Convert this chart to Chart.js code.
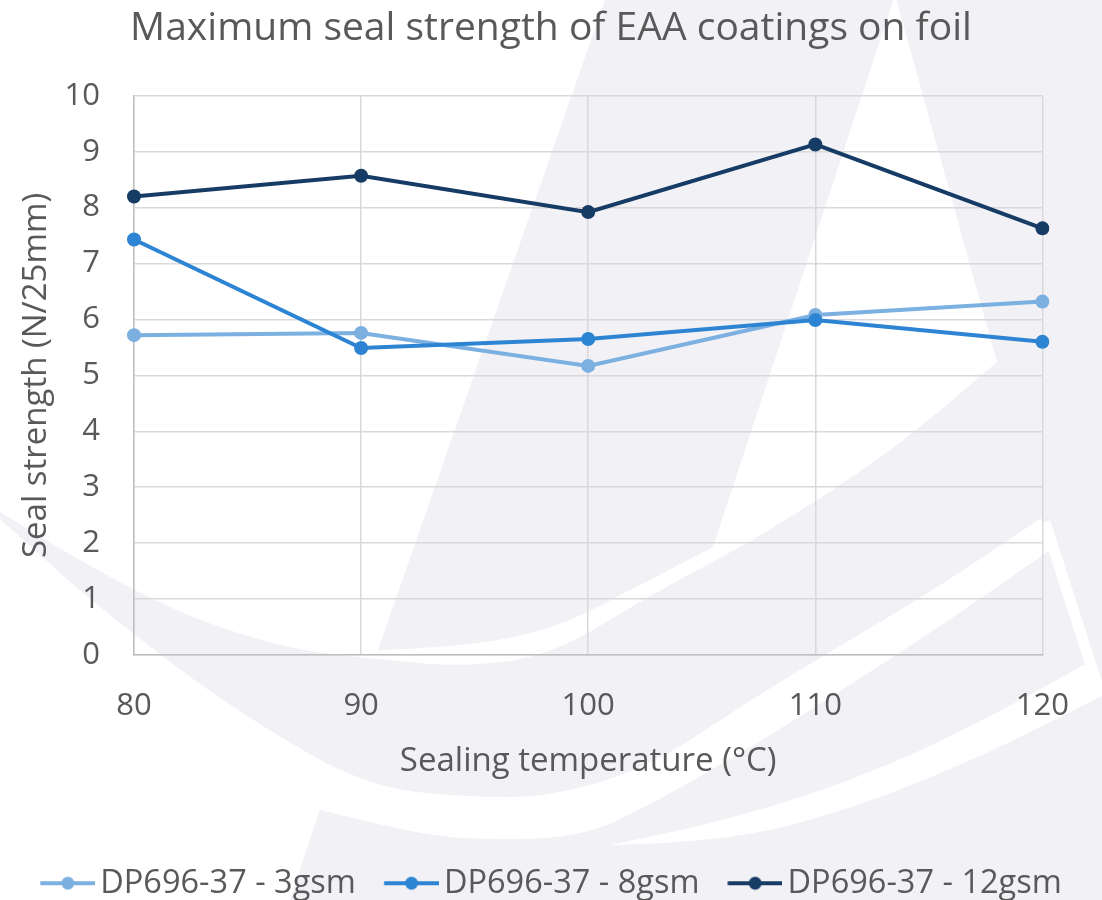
<!DOCTYPE html>
<html>
<head>
<meta charset="utf-8">
<title>Maximum seal strength of EAA coatings on foil</title>
<script src="https://cdn.jsdelivr.net/npm/chart.js@4.4.1/dist/chart.umd.min.js"></script>
<style>
  html, body { margin: 0; padding: 0; background: #ffffff; }
  canvas { display: block; }
</style>
</head>
<body>
<canvas id="sealChart" width="1102" height="900"></canvas>
<script>
// Sealing temperatures (°C) on the category axis
const temperatures = ['80', '90', '100', '110', '120'];

// Maximum seal strength (N/25mm) for each coating weight
const seal3gsm  = [5.72, 5.76, 5.17, 6.08, 6.32];
const seal8gsm  = [7.43, 5.49, 5.65, 5.99, 5.60];
const seal12gsm = [8.20, 8.57, 7.92, 9.13, 7.63];

const seriesNames  = ['DP696-37 - 3gsm', 'DP696-37 - 8gsm', 'DP696-37 - 12gsm'];
const seriesValues = [seal3gsm, seal8gsm, seal12gsm];
const seriesColors = ['#7cb0e1', '#2c84d2', '#163c66'];

const FONT = '"Open Sans", "Liberation Sans", sans-serif';
const TEXT_COLOR = '#595959';

// Legend swatch: short line with a round marker, as in the plotted series.
// The canvas carries a transparent left margin so the visible swatch
// starts at the item's left edge and ends just before the label.
const SWATCH_MARGIN = 11.25;
const SWATCH_LEN = 55;
function legendIcon(color) {
  const c = document.createElement('canvas');
  c.width = SWATCH_LEN + SWATCH_MARGIN; c.height = 16;
  const g = c.getContext('2d');
  g.strokeStyle = color; g.lineWidth = 4;
  g.beginPath(); g.moveTo(SWATCH_MARGIN, 8); g.lineTo(SWATCH_MARGIN + SWATCH_LEN, 8); g.stroke();
  g.fillStyle = color;
  g.beginPath(); g.arc(SWATCH_MARGIN + SWATCH_LEN / 2, 8, 6.5, 0, Math.PI * 2); g.fill();
  return c;
}
const legendIcons = seriesColors.map(legendIcon);

// Smooth path helper for the background emblem
function smooth(ctx, pts, start) {
  if (start) ctx.moveTo(pts[0][0], pts[0][1]); else ctx.lineTo(pts[0][0], pts[0][1]);
  for (let i = 1; i < pts.length - 1; i++) {
    const mx = (pts[i][0] + pts[i + 1][0]) / 2;
    const my = (pts[i][1] + pts[i + 1][1]) / 2;
    ctx.quadraticCurveTo(pts[i][0], pts[i][1], mx, my);
  }
  const last = pts[pts.length - 1];
  ctx.lineTo(last[0], last[1]);
}

// Faint sail emblem painted behind the whole chart
const emblemPlugin = {
  id: 'emblem',
  beforeDraw(chart) {
    const ctx = chart.ctx;
    ctx.save();
    ctx.fillStyle = '#ffffff';
    ctx.fillRect(0, 0, chart.width, chart.height);

    ctx.fillStyle = '#f1f1f6';
    ctx.beginPath();
    ctx.moveTo(605, 0);
    ctx.lineTo(1102, 0);
    ctx.lineTo(1102, 900);
    ctx.lineTo(290, 900);
    ctx.lineTo(320, 810);
    smooth(ctx, [[333, 767], [246, 719], [105, 613], [0, 519]], false);
    ctx.lineTo(0, 512);
    smooth(ctx, [[0, 512], [134, 596], [281, 649], [387, 660]], false);
    ctx.lineTo(378, 650);
    ctx.closePath();
    ctx.fill();

    ctx.fillStyle = '#ffffff';
    // gap between the sails and the upper swoosh
    ctx.beginPath();
    ctx.moveTo(895, -5);
    ctx.lineTo(997, 362);
    smooth(ctx, [[997, 362], [953, 400], [883, 457], [762, 536], [650, 595], [551, 656], [460, 667], [387, 660]], false);
    ctx.lineTo(378, 650);
    smooth(ctx, [[378, 650], [450, 648], [551, 631], [640, 585], [713, 547]], false);
    ctx.closePath();
    ctx.fill();

    // second swoosh gap
    ctx.beginPath();
    smooth(ctx, [[1041, 518], [950, 580], [850, 640], [750, 700], [650, 767], [550, 797], [467, 797], [387, 789], [333, 767], [300, 750]], true);
    ctx.lineTo(320, 810);
    smooth(ctx, [[320, 810], [400, 830], [467, 840], [580, 838], [650, 805], [750, 748], [850, 685], [950, 620], [1050, 550]], false);
    ctx.closePath();
    ctx.fill();

    // third swoosh gap
    ctx.beginPath();
    smooth(ctx, [[1087, 663], [983, 722], [850, 782], [720, 822], [610, 845]], true);
    smooth(ctx, [[610, 845], [720, 843], [850, 810], [983, 756], [1102, 696]], false);
    ctx.lineTo(1102, 680);
    ctx.closePath();
    ctx.fill();

    // thin stripe beside the right sail
    ctx.strokeStyle = '#ffffff';
    ctx.lineWidth = 11;
    ctx.beginPath();
    ctx.moveTo(1045, 522);
    ctx.lineTo(1097, 684);
    ctx.stroke();
    ctx.restore();
  }
};

const datasets = seriesNames.map((name, i) => ({
  label: name,
  data: seriesValues[i],
  borderColor: seriesColors[i],
  backgroundColor: seriesColors[i],
  borderWidth: 4,
  pointRadius: 7,
  pointHoverRadius: 7,
  pointBorderWidth: 0,
  pointBackgroundColor: seriesColors[i],
  tension: 0,
  fill: false,
  order: seriesNames.length - i
}));

new Chart(document.getElementById('sealChart'), {
  type: 'line',
  data: { labels: temperatures, datasets },
  options: {
    responsive: false,
    animation: false,
    devicePixelRatio: 1,
    layout: { padding: 0 },
    plugins: {
      tooltip: { enabled: false },
      title: {
        display: true,
        text: 'Maximum seal strength of EAA coatings on foil',
        color: TEXT_COLOR,
        font: { family: FONT, size: 39, weight: 'normal' },
        padding: { top: 5, bottom: 44 }
      },
      legend: {
        position: 'bottom',
        maxHeight: 61,
        labels: {
          usePointStyle: true,
          pointStyleWidth: SWATCH_LEN - SWATCH_MARGIN,
          padding: 28,
          color: TEXT_COLOR,
          font: { family: FONT, size: 32.5 },
          generateLabels(chart) {
            return chart.data.datasets.map((ds, i) => ({
              text: ds.label,
              pointStyle: legendIcons[i],
              fillStyle: ds.borderColor,
              strokeStyle: ds.borderColor,
              lineWidth: 0,
              fontColor: TEXT_COLOR,
              hidden: !chart.isDatasetVisible(i),
              datasetIndex: i
            }));
          }
        }
      }
    },
    scales: {
      x: {
        type: 'category',
        offset: false,
        grid: { display: true, color: '#d9d9d9', lineWidth: 1.5, drawTicks: false },
        border: { display: true, color: '#bfbfbf', width: 1.5 },
        ticks: { color: TEXT_COLOR, font: { family: FONT, size: 31 }, padding: 33, maxRotation: 0 },
        title: {
          display: true,
          text: 'Sealing temperature (°C)',
          color: TEXT_COLOR,
          font: { family: FONT, size: 33 },
          padding: { top: 16, bottom: 58 }
        },
        afterFit(scale) { scale.height = 184; }
      },
      y: {
        type: 'linear',
        min: 0,
        max: 10,
        grid: { color: '#d9d9d9', lineWidth: 1.5, drawTicks: false },
        border: { display: true, color: '#bfbfbf', width: 1.5 },
        ticks: { stepSize: 1, color: TEXT_COLOR, font: { family: FONT, size: 31 }, padding: 34 },
        title: {
          display: true,
          text: 'Seal strength (N/25mm)',
          color: TEXT_COLOR,
          font: { family: FONT, size: 33 },
          padding: { top: 17, bottom: 8 }
        },
        afterFit(scale) { scale.width = 134; }
      },
      gutter: {
        type: 'linear',
        position: 'right',
        display: true,
        grid: { display: false, drawTicks: false },
        border: { display: false },
        ticks: { display: false },
        afterFit(scale) { scale.width = 56; }
      }
    }
  },
  plugins: [emblemPlugin]
});
</script>
</body>
</html>
